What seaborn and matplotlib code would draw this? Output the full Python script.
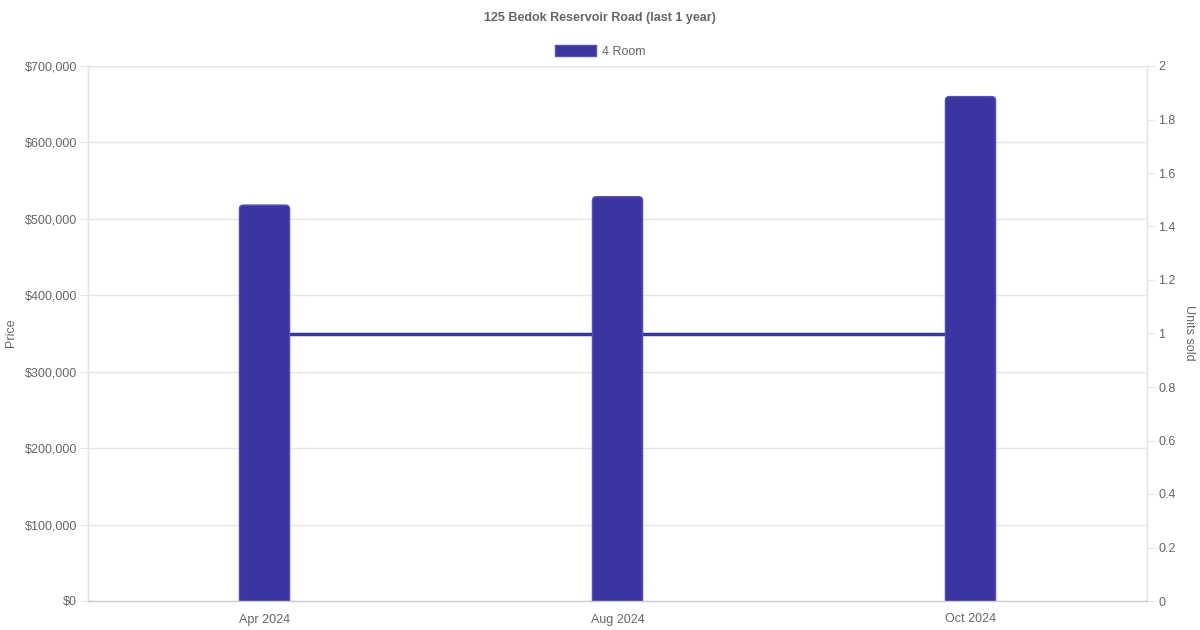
import pandas as pd
import seaborn as sns
import matplotlib.pyplot as plt
from matplotlib.ticker import FuncFormatter, MultipleLocator
from matplotlib.patches import Patch, FancyBboxPatch

months = ["Apr 2024", "Aug 2024", "Oct 2024"]
price = [518000, 529000, 660000]
units_sold = [1, 1, 1]

BAR_COLOR = "#3a35a0"
EDGE = "#5450b8"
TEXT = "#666666"
GRID = "#e5e5e5"


def main():
    sns.set_theme(style="white")
    plt.rcParams["font.family"] = ["Liberation Sans", "DejaVu Sans"]

    df = pd.DataFrame({"month": months, "price": price, "units": units_sold})

    fig = plt.figure(figsize=(12, 6.3), dpi=100)
    ax = fig.add_axes([88 / 1200, 29 / 630, 1059 / 1200, 535 / 630])
    ax2 = ax.twinx()

    # units line on the right axis, drawn behind the bars
    sns.lineplot(data=df, x="month", y="units", ax=ax2, color=BAR_COLOR,
                 linewidth=2.5, legend=False)
    sns.barplot(data=df, x="month", y="price", ax=ax, color=BAR_COLOR,
                width=0.142, saturation=1, edgecolor=EDGE, linewidth=1)

    ax.set_zorder(ax2.get_zorder() + 1)
    ax.patch.set_visible(False)

    ax.set_xlim(-0.5, 2.5)
    ax.set_ylim(0, 700000)
    ax2.set_ylim(0, 2)

    # swap the square bars for ones with rounded tops (bottom corners fall below 0 and get clipped)
    rx = 4 / 353
    ry = 4 * 700000 / 535
    for bar in list(ax.patches):
        x, y = bar.get_x(), bar.get_y()
        w, h = bar.get_width(), bar.get_height()
        rounded = FancyBboxPatch((x, y - ry * 2), w, h + ry * 2,
                                 boxstyle=f"round,pad=0,rounding_size={rx}",
                                 mutation_aspect=ry / rx,
                                 facecolor=BAR_COLOR, edgecolor=EDGE, linewidth=1)
        bar.remove()
        ax.add_patch(rounded)

    ax.yaxis.set_major_locator(MultipleLocator(100000))
    ax2.yaxis.set_major_locator(MultipleLocator(0.2))
    ax.yaxis.set_major_formatter(FuncFormatter(lambda v, p: f"${v:,.0f}"))
    ax2.yaxis.set_major_formatter(FuncFormatter(lambda v, p: f"{v:.1f}".rstrip("0").rstrip(".")))

    ax.grid(axis="y", color=GRID, linewidth=1)
    ax.grid(axis="x", visible=False)
    ax2.grid(False)

    for a in (ax, ax2):
        for s in a.spines.values():
            s.set_color(GRID)
            s.set_linewidth(1)
        a.spines["top"].set_visible(False)
        a.tick_params(axis="y", colors=TEXT, labelsize=9, length=6, width=0.8,
                      color=GRID, pad=2)
        a.tick_params(axis="x", colors=TEXT, labelsize=9, length=0, pad=9)
    ax.spines["bottom"].set_color("#cccccc")
    ax2.spines["bottom"].set_visible(False)

    ax.set_xlabel("")
    ax.set_ylabel("")
    ax2.set_ylabel("")
    fig.text(11 / 1200, 1 - 333 / 630, "Price", rotation=90, ha="center", va="center",
             fontsize=9, color=TEXT)
    fig.text(1189 / 1200, 1 - 333 / 630, "Units sold", rotation=270, ha="center",
             va="center", fontsize=9, color=TEXT)

    fig.text(0.5, 1 - 18.5 / 630, "125 Bedok Reservoir Road (last 1 year)",
             ha="center", va="center", fontsize=9, fontweight="bold", color=TEXT)
    handle = Patch(facecolor=BAR_COLOR, edgecolor=EDGE, label="4 Room")
    fig.legend(handles=[handle], loc="center", bbox_to_anchor=(0.5, 1 - 51.5 / 630),
               frameon=False, fontsize=9, labelcolor=TEXT, handlelength=3.3,
               handleheight=0.9, handletextpad=0.5)

    fig.savefig("out.png", dpi=100)


if __name__ == "__main__":
    main()
